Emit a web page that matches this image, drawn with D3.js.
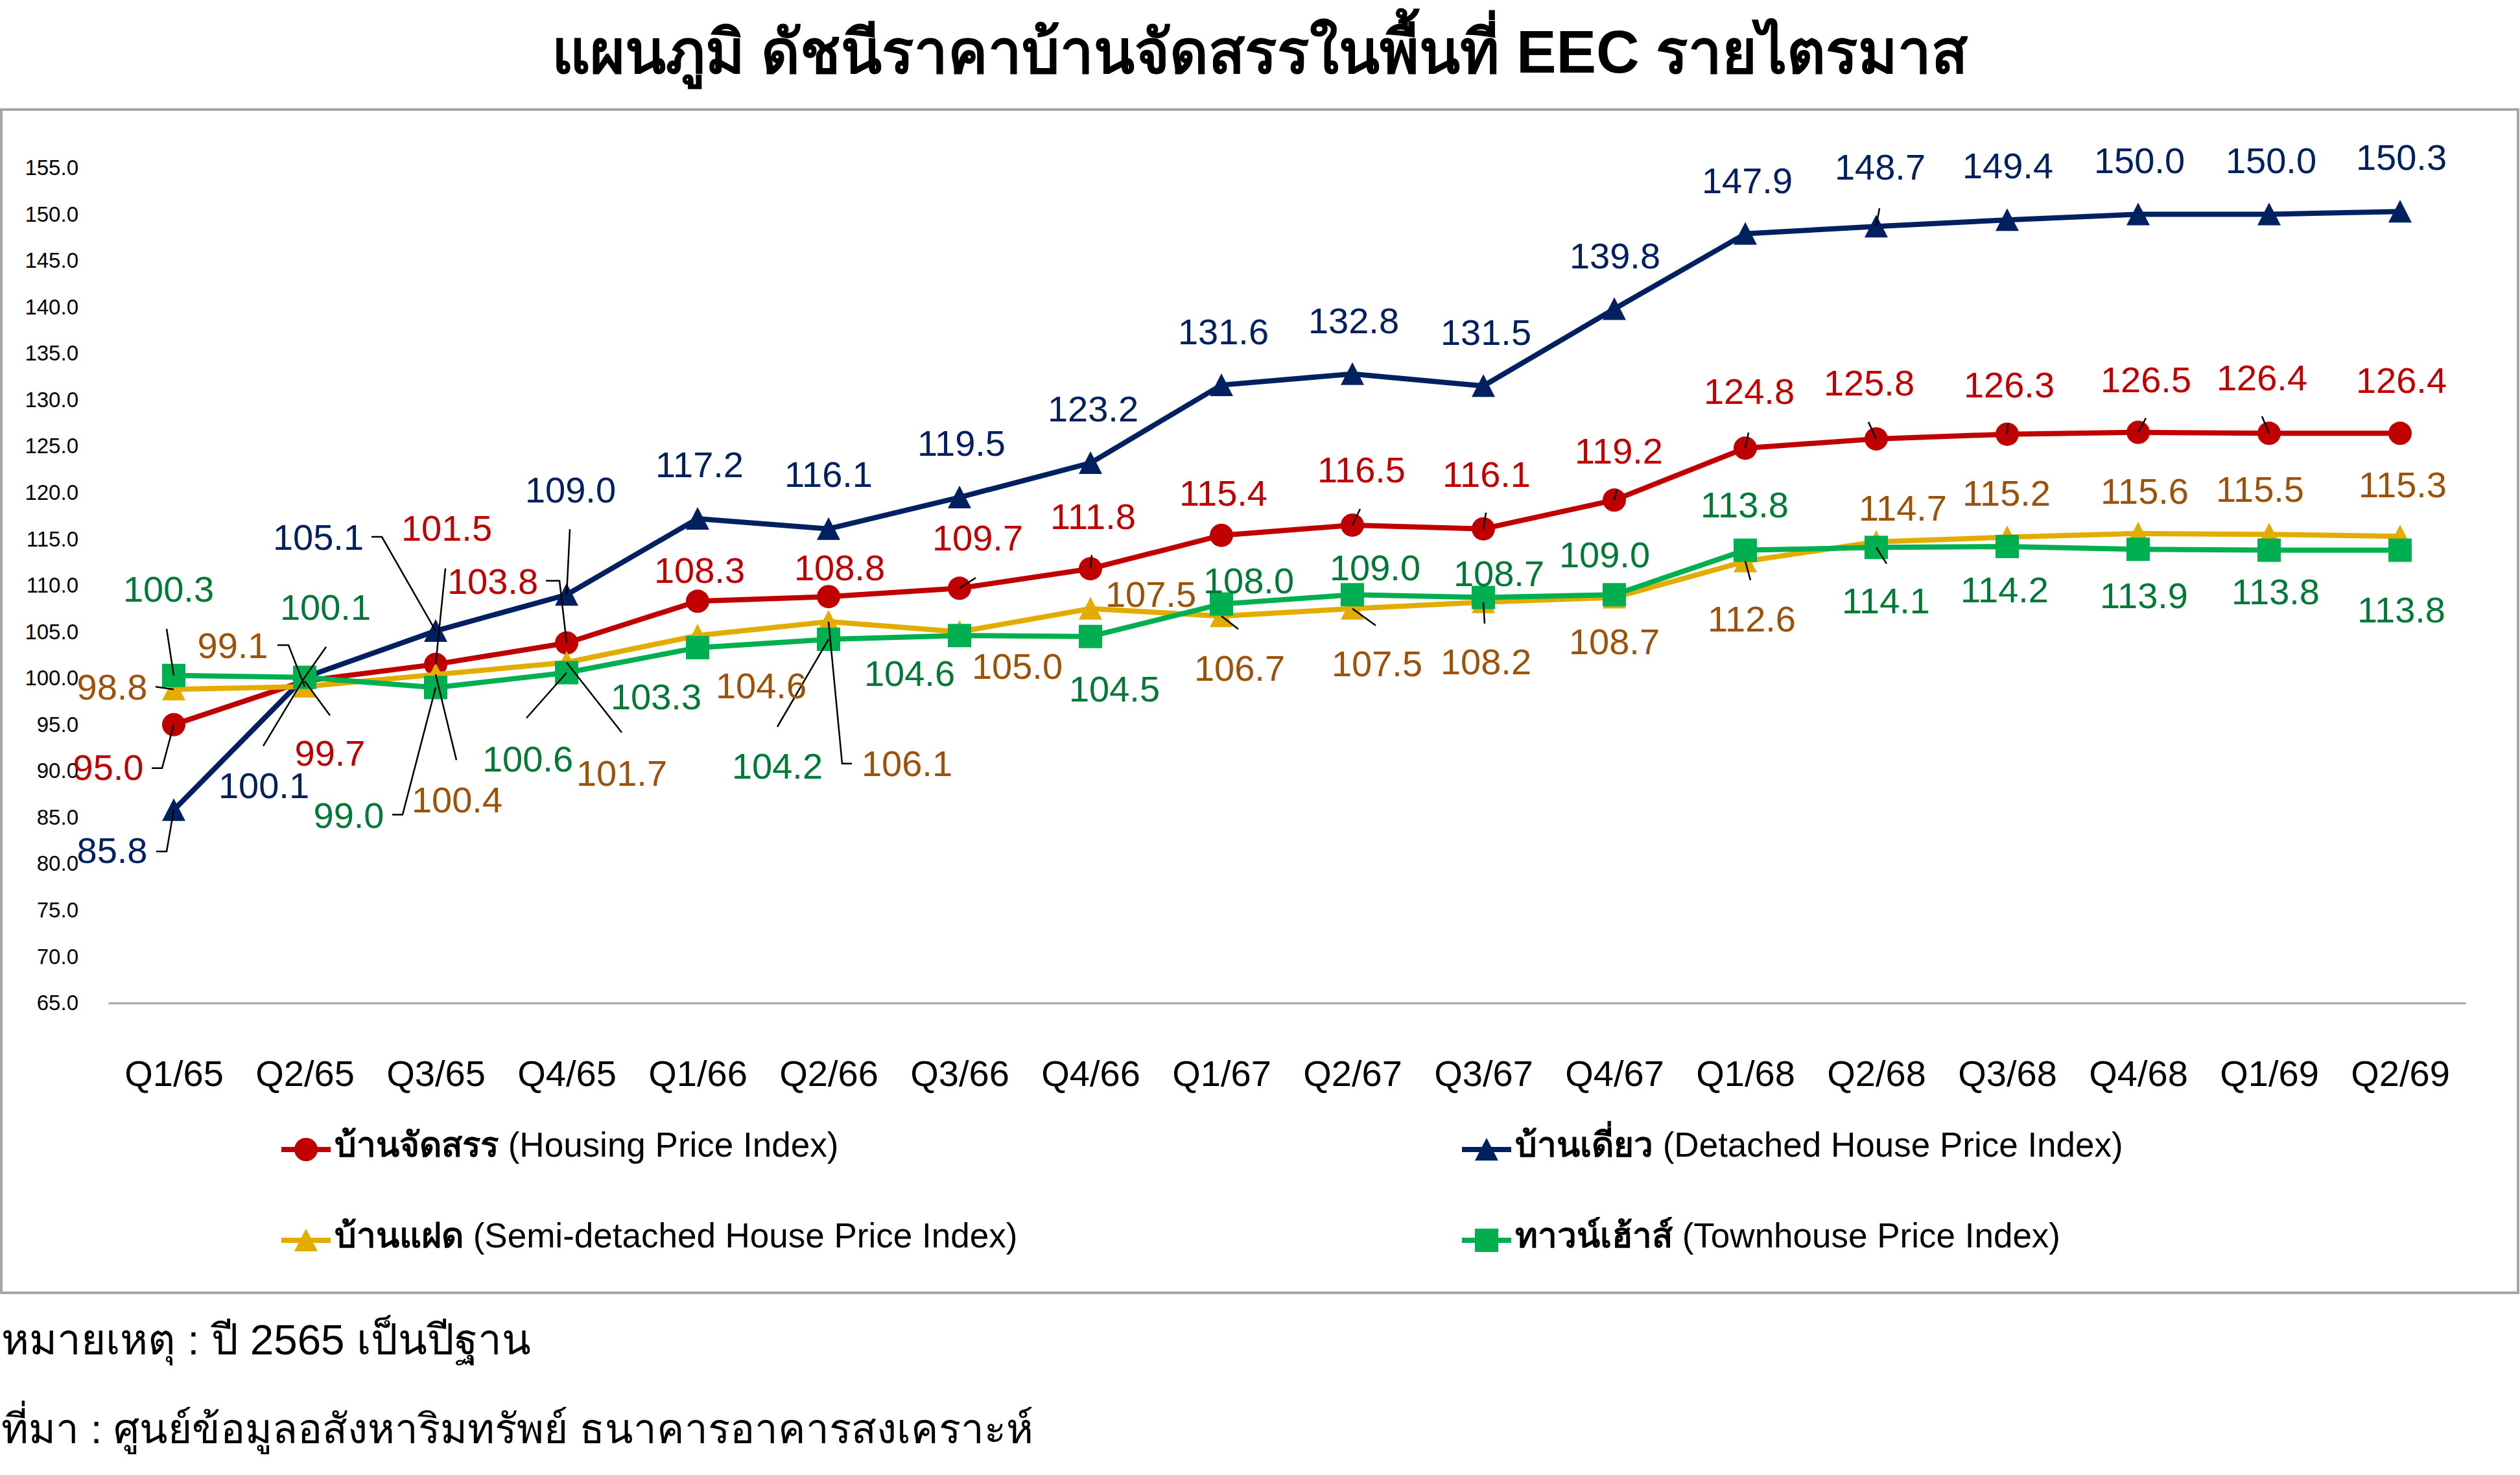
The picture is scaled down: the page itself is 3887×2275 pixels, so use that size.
<!DOCTYPE html>
<html>
<head>
<meta charset="utf-8">
<script src="https://cdn.jsdelivr.net/npm/d3@7"></script>
<style>
  body { margin: 0; background: #fff; }
  svg text { font-family: "Liberation Sans", Arial, "Noto Sans", sans-serif; }
</style>
</head>
<body>
<svg id="chart" width="3887" height="2275"></svg>
<script>
// ---- data ----
const quarters = ['Q1/65', 'Q2/65', 'Q3/65', 'Q4/65', 'Q1/66', 'Q2/66', 'Q3/66', 'Q4/66', 'Q1/67',
                  'Q2/67', 'Q3/67', 'Q4/67', 'Q1/68', 'Q2/68', 'Q3/68', 'Q4/68', 'Q1/69', 'Q2/69'];
const housing = [95.0, 99.7, 101.5, 103.8, 108.3, 108.8, 109.7, 111.8, 115.4, 116.5, 116.1, 119.2, 124.8, 125.8, 126.3, 126.5, 126.4, 126.4];
const detached = [85.8, 100.1, 105.1, 109.0, 117.2, 116.1, 119.5, 123.2, 131.6, 132.8, 131.5, 139.8, 147.9, 148.7, 149.4, 150.0, 150.0, 150.3];
const semiDetached = [98.8, 99.1, 100.4, 101.7, 104.6, 106.1, 105.0, 107.5, 106.7, 107.5, 108.2, 108.7, 112.6, 114.7, 115.2, 115.6, 115.5, 115.3];
const townhouse = [100.3, 100.1, 99.0, 100.6, 103.3, 104.2, 104.6, 104.5, 108.0, 109.0, 108.7, 109.0, 113.8, 114.1, 114.2, 113.9, 113.8, 113.8];
const yTicks = d3.range(65, 156, 5);

const titleText = 'แผนภูมิ ดัชนีราคาบ้านจัดสรรในพื้นที่ EEC รายไตรมาส';
const noteText = 'หมายเหตุ : ปี 2565 เป็นปีฐาน';
const sourceText = 'ที่มา : ศูนย์ข้อมูลอสังหาริมทรัพย์ ธนาคารอาคารสงเคราะห์';

// label placement (offset of label centre from its point, px) and leader lines
const labelOffsets = {
  housing: [[-101,65],[39,111],[17,-211],[-114,-96],[3,-48],[17,-45],[28,-78],[4,-81],[3,-66],
            [14,-86],[5,-85],[7,-76],[6,-88],[-11,-87],[3,-77],[12,-82],[-11,-86],[2,-82]],
  detached: [[-95,62],[-63,166],[-181,-145],[6,-162],[3,-84],[0,-85],[3,-84],[4,-84],[3,-83],
             [2,-83],[4,-83],[1,-83],[3,-83],[6,-92],[1,-84],[2,-84],[3,-84],[2,-84]],
  semi: [[-95,-4],[-111,-64],[33,193],[85,170],[98,77],[121,218],[89,52],[93,-23],[28,80],
         [38,84],[4,91],[0,67],[10,88],[41,-53],[-1,-69],[10,-66],[-14,-70],[4,-80]],
  town: [[-8,-134],[32,-109],[-134,197],[-60,132],[-64,75],[-79,195],[-77,58],[37,80],[42,-37],
         [35,-42],[24,-38],[-15,-62],[-1,-71],[15,82],[-4,66],[9,71],[10,63],[2,91]]
};
const leaders = {
  housing: {0: [[-34,67],[-18,67]], 1: [[39,53]], 2: [[15,-148]], 3: [[-32,-96],[-11,-96]],
            6: [[25,-16]], 7: [[2,-21]], 9: [[12,-25]], 10: [[4,-25]], 11: [[4,-16]], 12: [[5,-24]],
            13: [[-12,-26]], 14: [[1,-17]], 15: [[12,-22]], 16: [[-11,-26]]},
  detached: {0: [[-27,64],[-11,64]], 1: [[-64,106]], 2: [[-99,-145],[-83,-145]], 3: [[5,-101]], 13: [[5,-28]]},
  semi: {0: [[-28,-4]], 1: [[-42,-64],[-25,-64]], 2: [[32,132]], 3: [[85,108]], 5: [[36,219],[21,219]],
         8: [[26,20]], 9: [[36,26]], 10: [[2,33]], 12: [[8,29]]},
  town: {0: [[-11,-72]], 1: [[33,-47]], 2: [[-67,196],[-51,196]], 3: [[-62,70]], 5: [[-79,135]], 13: [[16,25]]}
};

const series = [
  {key: 'housing', values: housing, th: 'บ้านจัดสรร', en: ' (Housing Price Index)',
   line: '#c00000', text: '#c00000', shape: 'circle'},
  {key: 'detached', values: detached, th: 'บ้านเดี่ยว', en: ' (Detached House Price Index)',
   line: '#002060', text: '#002060', shape: 'triangle'},
  {key: 'semi', values: semiDetached, th: 'บ้านแฝด', en: ' (Semi-detached House Price Index)',
   line: '#e3ac00', text: '#9c5208', shape: 'triangle'},
  {key: 'town', values: townhouse, th: 'ทาวน์เฮ้าส์', en: ' (Townhouse Price Index)',
   line: '#00b050', text: '#007a36', shape: 'square'}
];

const svg = d3.select('#chart');

// outer frame
svg.append('rect')
  .attr('x', 2).attr('y', 169)
  .attr('width', 3882).attr('height', 1825)
  .style('fill', 'none')
  .style('stroke', '#a6a6a6')
  .style('stroke-width', 4);

const x = d3.scalePoint().domain(quarters).range([167, 3803]).padding(0.5);
const y = d3.scaleLinear().domain([65, 155]).range([1547, 259]);

// y axis (labels only)
const yAxis = svg.append('g')
  .attr('transform', 'translate(125,0)')
  .call(d3.axisLeft(y).tickValues(yTicks).tickFormat(d3.format('.1f')).tickSize(0).tickPadding(4));
yAxis.select('.domain').remove();
yAxis.selectAll('text').style('font-size', '33px').style('fill', '#000');

// x axis
const xAxis = svg.append('g')
  .attr('transform', 'translate(0,1547)')
  .call(d3.axisBottom(x).tickSize(0).tickSizeOuter(0).tickPadding(88));
xAxis.select('.domain').style('stroke', '#a6a6a6').style('stroke-width', 3);
xAxis.selectAll('text').style('font-size', '56px').style('fill', '#000');

function marker(g, shape, cx, cy, color) {
  if (shape === 'circle') {
    g.append('circle').attr('cx', cx).attr('cy', cy).attr('r', 18).style('fill', color);
  } else if (shape === 'square') {
    g.append('rect').attr('x', cx - 18).attr('y', cy - 18).attr('width', 36).attr('height', 36).style('fill', color);
  } else {
    g.append('path')
      .attr('d', `M${cx},${cy - 18}L${cx + 18},${cy + 17}L${cx - 18},${cy + 17}Z`)
      .style('fill', color);
  }
}

const line = d3.line().x((d, i) => x(quarters[i])).y(d => y(d));

const plot = svg.append('g');
series.forEach(s => {
  plot.append('path')
    .datum(s.values)
    .attr('d', line)
    .style('fill', 'none')
    .style('stroke', s.line)
    .style('stroke-width', 8)
    .style('stroke-linejoin', 'round');
  s.values.forEach((v, i) => marker(plot, s.shape, x(quarters[i]), y(v), s.line));
});

// leader lines
const leaderG = svg.append('g');
series.forEach(s => {
  Object.entries(leaders[s.key]).forEach(([i, pts]) => {
    const px = x(quarters[+i]), py = y(s.values[+i]);
    const path = pts.concat([[0, 0]]).map(p => [px + p[0], py + p[1]]);
    leaderG.append('path')
      .attr('d', d3.line()(path))
      .style('fill', 'none')
      .style('stroke', '#000')
      .style('stroke-width', 2.5);
  });
});

// data labels
const labelG = svg.append('g');
series.forEach(s => {
  labelG.selectAll(null)
    .data(s.values)
    .enter()
    .append('text')
    .attr('x', (d, i) => x(quarters[i]) + labelOffsets[s.key][i][0])
    .attr('y', (d, i) => y(d) + labelOffsets[s.key][i][1] + 20)
    .attr('text-anchor', 'middle')
    .style('font-size', '56px')
    .style('fill', s.text)
    .text(d => d.toFixed(1));
});

// legend
const legendPos = [[434, 1773], [2255, 1773], [434, 1913], [2255, 1913]];
series.forEach((s, i) => {
  const [lx, ly] = legendPos[i];
  const g = svg.append('g');
  g.append('line')
    .attr('x1', lx).attr('x2', lx + 76)
    .attr('y1', ly).attr('y2', ly)
    .style('stroke', s.line).style('stroke-width', 8);
  marker(g, s.shape, lx + 38, ly, s.line);
  const t = g.append('text')
    .attr('x', lx + 82).attr('y', ly + 11)
    .style('font-size', '53px')
    .style('fill', '#000');
  t.append('tspan').style('font-weight', 'bold').text(s.th);
  t.append('tspan').text(s.en);
});

// title and notes
function fitWidth(sel, target) {
  const fs = parseFloat(sel.style('font-size'));
  const w = sel.node().getComputedTextLength();
  if (w > 0) sel.style('font-size', (fs * target / w) + 'px');
}

const title = svg.append('text')
  .attr('x', 1943).attr('y', 112)
  .attr('text-anchor', 'middle')
  .style('font-size', '80px')
  .style('font-weight', 'bold')
  .text(titleText);
fitWidth(title, 2187);

const note = svg.append('text')
  .attr('x', 2).attr('y', 2089)
  .style('font-size', '62px')
  .text(noteText);
fitWidth(note, 814);

const source = svg.append('text')
  .attr('x', 2).attr('y', 2226)
  .style('font-size', '62px')
  .text(sourceText);
fitWidth(source, 1586);
</script>
</body>
</html>
